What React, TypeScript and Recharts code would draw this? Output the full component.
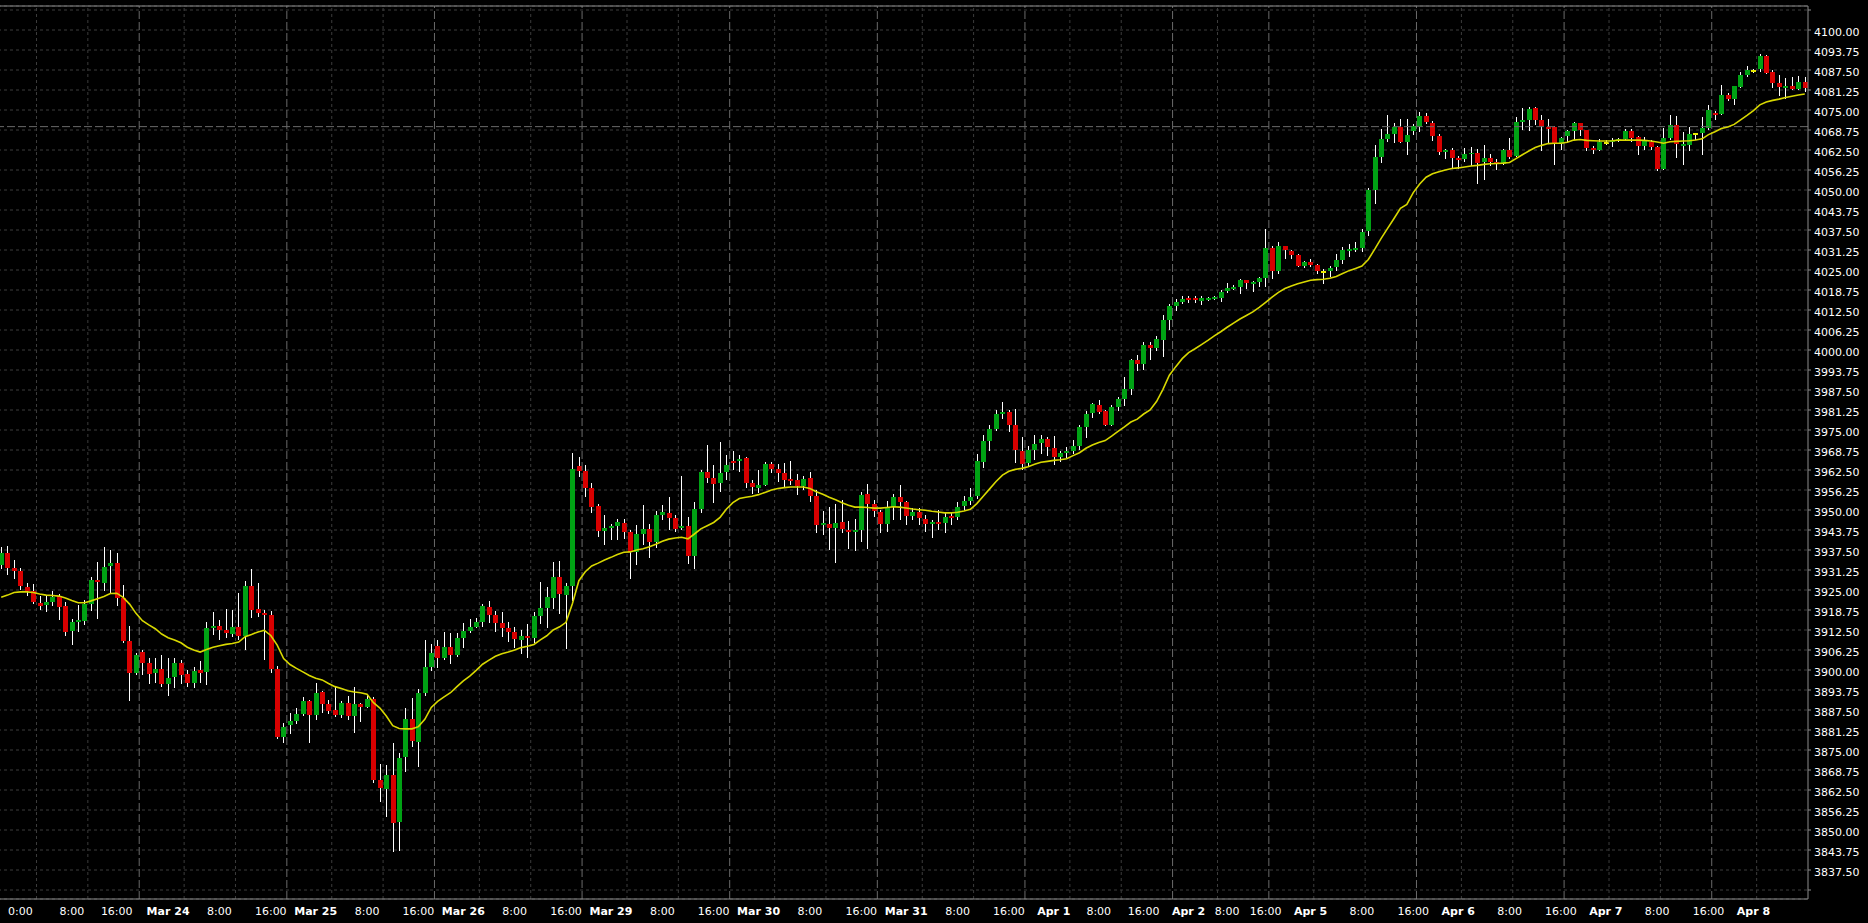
import { ComposedChart, Bar, Line, XAxis, YAxis, CartesianGrid, ReferenceLine } from 'recharts';

// hourly bars, Mar 23 -> Apr 8
const opens = [
  3932.8, 3936.7, 3931.9, 3931.0, 3926.0, 3924.7, 3921.0, 3920.3, 3921.25, 3923.1,
  3920.0, 3912.2, 3915.0, 3915.3, 3920.7, 3928.1, 3927.3, 3932.6, 3933.4, 3922.6,
  3909.0, 3899.2, 3905.6, 3902.2, 3899.1, 3900.3, 3895.7, 3897.9, 3902.2, 3898.75,
  3895.9, 3900.0, 3899.5, 3913.2, 3913.75, 3912.5, 3911.3, 3913.4, 3910.6, 3926.25,
  3919.0, 3917.8, 3917.2, 3900.3, 3879.1, 3882.8, 3884.1, 3886.3, 3890.3, 3885.9,
  3893.1, 3889.4, 3887.5, 3885.9, 3889.7, 3885.6, 3889.4, 3888.4, 3890.9, 3865.6,
  3862.8, 3867.2, 3852.6, 3872.9, 3884.7, 3877.6, 3892.8, 3900.9, 3907.5, 3903.75,
  3907.2, 3904.7, 3910.0, 3912.2, 3913.4, 3915.0, 3919.7, 3917.2, 3914.7, 3913.1,
  3911.9, 3909.4, 3910.6, 3910.0, 3916.9, 3919.5, 3922.6, 3929.1, 3923.5, 3926.4,
  3963.75, 3962.2, 3956.9, 3951.25, 3943.4, 3944.4, 3945.0, 3946.0, 3943.1, 3936.9,
  3942.5, 3944.0, 3940.0, 3948.4, 3949.0, 3947.5, 3944.4, 3945.0, 3935.6, 3950.3,
  3961.9, 3960.0, 3958.4, 3961.9, 3965.3, 3965.3, 3966.25, 3958.4, 3956.9, 3957.8,
  3964.4, 3962.8, 3961.6, 3959.7, 3959.4, 3957.5, 3960.0, 3954.4, 3945.3, 3945.6,
  3944.4, 3946.25, 3943.75, 3943.2, 3943.75, 3955.0, 3951.9, 3949.4, 3945.6, 3950.9,
  3954.0, 3952.5, 3948.1, 3949.4, 3947.2, 3945.6, 3946.25, 3945.9, 3948.1, 3947.8,
  3951.25, 3952.8, 3954.4, 3965.0, 3971.6, 3975.3, 3980.0, 3980.6, 3976.6, 3968.4,
  3964.7, 3968.75, 3970.9, 3972.2, 3969.4, 3966.6, 3967.8, 3968.4, 3970.0, 3975.9,
  3980.3, 3982.8, 3980.9, 3976.6, 3982.2, 3984.7, 3987.8, 3996.9, 3995.6, 4001.6,
  4000.6, 4003.1, 4009.4, 4013.9, 4015.0, 4016.25, 4016.25, 4015.3, 4015.6, 4016.0,
  4016.25, 4018.4, 4019.1, 4019.7, 4021.9, 4020.6, 4021.25, 4022.5, 4031.9, 4024.7,
  4032.5, 4030.9, 4029.7, 4026.25, 4027.5, 4026.6, 4024.4, 4024.7, 4026.0, 4028.1,
  4030.9, 4031.25, 4031.9, 4037.2, 4050.0, 4060.3, 4065.9, 4067.5, 4069.7, 4065.0,
  4068.4, 4069.7, 4073.1, 4071.0, 4066.9, 4061.9, 4062.5, 4060.0, 4059.7, 4061.25,
  4061.6, 4058.75, 4060.0, 4058.75, 4058.1, 4062.5, 4060.6, 4071.25, 4071.9, 4075.6,
  4071.9, 4069.7, 4069.7, 4064.4, 4066.9, 4068.4, 4070.9, 4068.75, 4063.1, 4062.5,
  4064.7, 4065.0, 4065.3, 4065.9, 4068.4, 4066.6, 4063.75, 4065.0, 4063.4, 4056.6,
  4066.25, 4070.3, 4063.75, 4064.1, 4067.5, 4067.8, 4069.4, 4074.1, 4073.75, 4079.7,
  4078.4, 4082.2, 4086.0, 4087.2, 4087.8, 4091.9, 4086.9, 4083.4, 4081.9, 4082.5,
  4081.6, 4083.75,
];

const highs = [
  3938.5, 3938.75, 3934.4, 3932.0, 3927.1, 3926.9, 3923.1, 3923.0, 3924.7, 3923.75,
  3921.35, 3915.8, 3920.2, 3921.9, 3929.2, 3933.75, 3938.5, 3937.5, 3936.5, 3926.5,
  3913.75, 3905.2, 3906.25, 3903.85, 3903.85, 3904.7, 3903.85, 3903.6, 3903.1, 3900.0,
  3901.0, 3902.8, 3915.0, 3918.2, 3915.6, 3919.0, 3918.75, 3924.2, 3927.9, 3931.6,
  3927.3, 3918.75, 3918.4, 3901.25, 3883.5, 3886.5, 3888.0, 3891.6, 3890.6, 3895.8,
  3893.4, 3890.6, 3894.8, 3890.3, 3891.9, 3894.8, 3889.8, 3892.2, 3891.7, 3870.6,
  3870.3, 3877.3, 3874.0, 3888.1, 3891.25, 3894.1, 3909.4, 3908.1, 3909.4, 3911.9,
  3911.6, 3911.5, 3914.6, 3915.8, 3916.1, 3920.6, 3921.6, 3918.5, 3918.2, 3915.0,
  3913.5, 3912.5, 3914.4, 3918.1, 3927.5, 3926.0, 3933.75, 3934.0, 3927.1, 3967.7,
  3966.7, 3964.1, 3958.3, 3951.9, 3948.4, 3945.6, 3947.1, 3947.1, 3943.75, 3945.3,
  3951.6, 3945.6, 3949.7, 3951.6, 3954.2, 3948.4, 3960.6, 3947.7, 3952.6, 3962.5,
  3970.3, 3964.1, 3971.25, 3967.2, 3968.4, 3967.2, 3966.6, 3959.4, 3962.5, 3965.0,
  3965.0, 3964.4, 3964.6, 3965.3, 3961.25, 3960.6, 3961.9, 3956.25, 3949.8, 3951.0,
  3951.9, 3953.1, 3946.6, 3947.2, 3955.6, 3958.1, 3953.1, 3950.0, 3952.8, 3955.0,
  3957.8, 3952.8, 3950.6, 3950.6, 3948.4, 3946.9, 3950.0, 3949.4, 3949.4, 3952.5,
  3954.4, 3956.9, 3967.5, 3973.4, 3976.6, 3981.25, 3983.75, 3981.25, 3981.6, 3972.9,
  3970.1, 3973.4, 3973.4, 3972.8, 3973.1, 3968.4, 3969.7, 3971.9, 3976.6, 3980.9,
  3983.5, 3984.4, 3981.25, 3982.8, 3985.3, 3991.6, 3997.2, 3998.4, 4002.5, 4002.5,
  4004.4, 4010.9, 4014.4, 4015.8, 4016.9, 4016.9, 4016.9, 4016.9, 4016.6, 4016.9,
  4018.75, 4020.9, 4020.3, 4022.2, 4021.9, 4021.6, 4022.8, 4037.8, 4032.5, 4033.75,
  4032.5, 4031.25, 4030.0, 4027.8, 4028.4, 4026.9, 4025.3, 4026.25, 4030.0, 4032.2,
  4033.1, 4033.75, 4037.8, 4050.6, 4064.1, 4069.1, 4073.4, 4071.0, 4072.2, 4072.2,
  4070.6, 4074.5, 4074.2, 4071.6, 4067.5, 4062.8, 4063.1, 4060.6, 4063.1, 4063.4,
  4062.8, 4064.0, 4061.25, 4059.7, 4062.8, 4066.25, 4072.8, 4075.6, 4075.9, 4075.9,
  4073.4, 4072.2, 4070.0, 4066.6, 4068.75, 4071.25, 4070.9, 4068.75, 4063.75, 4065.9,
  4065.6, 4066.25, 4066.25, 4069.1, 4069.1, 4066.9, 4066.6, 4065.6, 4063.75, 4069.4,
  4073.4, 4073.1, 4068.1, 4069.6, 4067.9, 4072.8, 4076.6, 4074.7, 4082.8, 4080.3,
  4082.5, 4086.9, 4088.75, 4087.8, 4092.5, 4092.2, 4087.5, 4085.9, 4085.0, 4085.3,
  4085.6, 4085.3,
];

const lows = [
  3931.5, 3929.7, 3928.4, 3925.0, 3923.0, 3920.6, 3918.75, 3918.0, 3920.0, 3915.6,
  3910.6, 3907.8, 3912.0, 3914.0, 3918.3, 3915.9, 3924.7, 3924.0, 3920.1, 3908.3,
  3890.3, 3898.4, 3898.4, 3895.6, 3896.0, 3894.8, 3892.0, 3894.5, 3895.6, 3894.8,
  3894.5, 3896.0, 3895.3, 3910.9, 3909.4, 3909.9, 3910.4, 3909.4, 3906.25, 3916.2,
  3916.7, 3903.1, 3899.2, 3878.5, 3877.1, 3880.0, 3883.0, 3885.5, 3877.3, 3884.4,
  3886.5, 3886.25, 3885.4, 3884.9, 3884.4, 3880.2, 3883.85, 3888.0, 3864.6, 3858.85,
  3854.2, 3843.2, 3843.5, 3868.2, 3876.0, 3869.8, 3891.9, 3899.8, 3900.6, 3903.1,
  3901.9, 3904.2, 3906.9, 3911.6, 3913.0, 3913.4, 3914.6, 3912.0, 3910.4, 3908.85,
  3906.8, 3905.0, 3903.75, 3908.3, 3914.4, 3913.1, 3919.0, 3917.5, 3906.6, 3921.7,
  3960.4, 3954.2, 3949.2, 3941.7, 3939.0, 3940.6, 3940.6, 3940.8, 3928.4, 3932.8,
  3939.0, 3935.0, 3938.0, 3946.9, 3943.75, 3943.0, 3943.75, 3933.1, 3931.6, 3949.0,
  3958.3, 3952.3, 3955.6, 3959.4, 3962.5, 3962.0, 3956.8, 3954.9, 3955.2, 3957.5,
  3961.5, 3958.6, 3957.3, 3957.8, 3954.7, 3956.25, 3952.6, 3942.9, 3942.2, 3937.5,
  3933.5, 3942.9, 3937.8, 3937.2, 3940.0, 3937.8, 3947.9, 3942.9, 3943.1, 3946.9,
  3946.9, 3945.3, 3946.9, 3945.3, 3943.1, 3941.4, 3943.75, 3942.9, 3945.3, 3946.9,
  3950.0, 3951.6, 3953.4, 3963.1, 3968.5, 3974.7, 3978.4, 3974.4, 3964.7, 3962.5,
  3963.5, 3965.6, 3967.5, 3966.9, 3964.1, 3965.0, 3966.25, 3967.5, 3968.75, 3972.5,
  3978.75, 3980.0, 3976.25, 3976.2, 3980.9, 3982.5, 3985.9, 3993.4, 3993.75, 3996.9,
  3999.7, 3997.9, 4006.25, 4012.2, 4014.4, 4014.6, 4014.8, 4014.0, 4015.2, 4015.7,
  4015.0, 4017.8, 4018.9, 4017.5, 4019.1, 4018.1, 4019.7, 4019.7, 4022.2, 4023.75,
  4028.4, 4028.4, 4026.0, 4025.6, 4025.9, 4023.75, 4020.6, 4022.8, 4024.7, 4026.9,
  4029.1, 4030.6, 4030.6, 4035.6, 4045.6, 4058.4, 4065.0, 4064.7, 4064.7, 4061.0,
  4067.2, 4068.1, 4070.6, 4065.3, 4061.0, 4059.7, 4056.6, 4056.6, 4058.75, 4057.5,
  4051.9, 4053.1, 4057.5, 4056.25, 4057.8, 4059.7, 4060.3, 4068.75, 4068.4, 4070.3,
  4062.2, 4064.6, 4057.8, 4062.5, 4065.0, 4065.6, 4066.9, 4062.2, 4061.25, 4062.2,
  4064.0, 4063.4, 4065.0, 4065.3, 4065.0, 4061.0, 4062.5, 4062.5, 4056.0, 4056.3,
  4065.6, 4059.9, 4057.8, 4062.2, 4065.6, 4060.9, 4068.75, 4071.9, 4073.5, 4077.8,
  4076.6, 4082.0, 4085.4, 4086.6, 4087.0, 4086.3, 4081.9, 4079.4, 4078.4, 4081.25,
  4081.25, 4080.6,
];

const closes = [
  3936.7, 3932.0, 3931.0, 3926.25, 3924.7, 3921.25, 3920.0, 3921.25, 3922.8, 3919.7,
  3912.0, 3915.0, 3915.5, 3920.7, 3928.1, 3927.5, 3932.2, 3933.4, 3922.5, 3909.0,
  3899.2, 3904.6, 3902.3, 3898.9, 3900.3, 3895.7, 3897.5, 3902.2, 3898.5, 3895.9,
  3899.7, 3899.1, 3913.1, 3913.75, 3912.6, 3911.7, 3913.4, 3910.6, 3926.25, 3918.75,
  3917.8, 3917.2, 3900.3, 3879.1, 3882.2, 3884.1, 3886.35, 3890.3, 3885.9, 3892.8,
  3889.4, 3887.3, 3885.9, 3889.7, 3885.6, 3889.4, 3888.5, 3890.9, 3865.6, 3863.1,
  3867.2, 3852.3, 3872.5, 3884.7, 3877.8, 3892.8, 3900.9, 3905.3, 3903.75, 3907.2,
  3904.7, 3910.0, 3912.2, 3913.4, 3915.0, 3920.0, 3917.2, 3914.7, 3913.1, 3911.9,
  3909.7, 3910.6, 3910.0, 3916.9, 3919.5, 3922.8, 3929.1, 3923.9, 3926.4, 3962.8,
  3962.2, 3956.9, 3950.9, 3943.4, 3944.4, 3945.0, 3946.25, 3943.1, 3936.9, 3942.5,
  3944.0, 3940.0, 3948.4, 3949.4, 3947.5, 3944.0, 3945.0, 3935.6, 3950.3, 3961.9,
  3960.0, 3958.1, 3961.6, 3964.1, 3964.7, 3965.9, 3958.4, 3957.2, 3957.8, 3964.4,
  3962.8, 3961.6, 3959.4, 3959.1, 3957.5, 3959.7, 3954.4, 3945.3, 3945.9, 3944.4,
  3945.9, 3944.0, 3943.2, 3943.75, 3954.7, 3951.9, 3949.7, 3945.6, 3950.6, 3954.0,
  3952.5, 3948.1, 3949.4, 3947.5, 3945.6, 3946.25, 3945.6, 3947.8, 3947.5, 3950.9,
  3952.8, 3954.1, 3965.3, 3971.6, 3975.3, 3980.0, 3980.6, 3976.6, 3968.75, 3964.4,
  3968.75, 3970.6, 3972.2, 3969.7, 3966.6, 3967.8, 3968.4, 3970.0, 3975.9, 3980.0,
  3983.1, 3980.6, 3976.6, 3982.2, 3984.7, 3987.8, 3996.9, 3995.6, 4001.6, 4000.6,
  4003.4, 4009.4, 4013.75, 4015.0, 4015.9, 4015.6, 4015.6, 4016.25, 4016.25, 4016.6,
  4018.1, 4019.4, 4019.7, 4021.9, 4021.0, 4021.25, 4022.5, 4031.9, 4024.7, 4032.5,
  4031.25, 4029.7, 4026.25, 4027.5, 4026.6, 4024.7, 4024.4, 4025.6, 4028.1, 4031.25,
  4031.6, 4031.9, 4036.9, 4050.0, 4060.3, 4065.9, 4067.5, 4069.7, 4065.0, 4067.2,
  4070.0, 4073.1, 4071.25, 4066.9, 4061.9, 4062.5, 4060.0, 4059.4, 4061.25, 4061.6,
  4058.4, 4060.0, 4058.75, 4058.1, 4062.5, 4060.3, 4071.25, 4071.9, 4075.3, 4071.9,
  4070.0, 4069.1, 4064.7, 4066.25, 4068.4, 4070.9, 4068.75, 4063.1, 4062.5, 4065.0,
  4064.7, 4065.6, 4065.9, 4068.4, 4066.25, 4063.75, 4065.3, 4063.4, 4056.6, 4066.25,
  4070.3, 4064.4, 4064.4, 4067.5, 4067.5, 4069.4, 4075.0, 4073.4, 4079.7, 4078.4,
  4082.5, 4085.9, 4087.5, 4087.2, 4091.9, 4086.6, 4083.4, 4082.2, 4082.5, 4081.6,
  4083.75, 4081.9,
];

// moving average as drawn on the chart
const maValues = [
  3922.7, 3923.4, 3924.2, 3924.4, 3924.4, 3924.2, 3923.75, 3923.4, 3923.3, 3923.1,
  3922.5, 3921.7, 3921.0, 3921.0, 3921.6, 3922.3, 3923.0, 3923.9, 3924.0, 3922.7,
  3920.6, 3917.7, 3915.4, 3914.1, 3912.9, 3911.25, 3910.1, 3909.4, 3908.5, 3907.1,
  3906.25, 3905.6, 3906.4, 3907.1, 3907.6, 3908.0, 3908.3, 3908.75, 3910.4, 3911.1,
  3911.9, 3912.4, 3910.8, 3907.8, 3903.6, 3901.7, 3900.5, 3899.4, 3898.3, 3897.4,
  3896.9, 3895.8, 3894.8, 3894.2, 3893.5, 3893.1, 3892.9, 3892.4, 3889.8, 3888.1,
  3885.6, 3882.6, 3881.7, 3881.6, 3881.6, 3882.3, 3884.6, 3888.3, 3890.2, 3891.6,
  3892.9, 3894.8, 3896.6, 3898.1, 3899.9, 3901.8, 3903.1, 3904.3, 3905.1, 3905.6,
  3906.25, 3907.0, 3907.4, 3908.0, 3909.4, 3910.7, 3912.5, 3913.5, 3914.9, 3920.8,
  3927.9, 3930.7, 3932.5, 3933.4, 3934.4, 3935.2, 3936.1, 3936.8, 3936.9, 3937.5,
  3937.9, 3938.5, 3939.3, 3940.2, 3940.9, 3941.25, 3941.5, 3941.0, 3942.5, 3944.1,
  3945.1, 3946.1, 3947.7, 3950.3, 3952.3, 3953.6, 3954.0, 3954.3, 3954.8, 3955.5,
  3956.25, 3956.7, 3957.0, 3957.2, 3957.2, 3957.2, 3956.7, 3955.7, 3954.9, 3954.0,
  3953.2, 3952.3, 3951.5, 3950.9, 3950.9, 3950.8, 3950.6, 3950.6, 3950.8, 3951.0,
  3950.9, 3950.6, 3950.3, 3950.1, 3949.9, 3949.6, 3949.4, 3949.1, 3949.1, 3949.3,
  3949.7, 3950.2, 3952.0, 3954.3, 3956.6, 3958.9, 3960.9, 3962.1, 3962.7, 3963.0,
  3963.5, 3964.3, 3964.9, 3965.2, 3965.5, 3965.7, 3966.0, 3967.0, 3967.9, 3969.3,
  3970.3, 3971.1, 3971.7, 3973.1, 3974.6, 3976.0, 3977.5, 3978.4, 3980.0, 3981.25,
  3983.9, 3987.7, 3992.1, 3994.8, 3997.3, 3999.2, 4000.4, 4001.7, 4003.0, 4004.4,
  4005.7, 4007.1, 4008.4, 4009.7, 4010.8, 4011.9, 4013.3, 4014.9, 4016.5, 4018.0,
  4019.2, 4020.0, 4020.7, 4021.25, 4021.8, 4022.0, 4022.1, 4022.4, 4023.0, 4023.9,
  4024.8, 4025.5, 4026.25, 4028.3, 4031.5, 4034.9, 4038.0, 4041.1, 4044.3, 4045.5,
  4049.2, 4051.9, 4054.0, 4055.1, 4055.7, 4056.25, 4056.7, 4056.9, 4057.2, 4057.5,
  4057.7, 4058.0, 4058.2, 4058.3, 4058.4, 4058.6, 4059.8, 4061.0, 4062.2, 4063.3,
  4063.95, 4064.5, 4064.6, 4064.6, 4064.9, 4065.6, 4065.8, 4065.5, 4065.4, 4065.3,
  4065.3, 4065.4, 4065.6, 4065.6, 4065.6, 4065.6, 4065.5, 4065.3, 4065.0, 4064.6,
  4065.1, 4065.2, 4065.3, 4065.4, 4065.6, 4066.0, 4067.3, 4068.2, 4069.2, 4069.7,
  4070.5, 4071.9, 4073.3, 4074.8, 4076.6, 4077.5, 4078.0, 4078.4, 4078.9, 4079.3,
  4079.7, 4080.0,
];

// first bar of each trading day (period separators)
const dayStarts = [21, 44, 67, 90, 113, 136, 159, 182, 197, 220, 243, 266];
// bars carrying the short-dash vertical grid
const gridBars = [5, 13, 28, 36, 51, 59, 74, 82, 97, 105, 120, 128, 143, 151, 166, 174, 189, 204, 212, 227, 235, 250, 258, 273];

const timeLabels = [
  '0:00', '8:00', '16:00', 'Mar 24', '8:00', '16:00', 'Mar 25', '8:00', '16:00', 'Mar 26',
  '8:00', '16:00', 'Mar 29', '8:00', '16:00', 'Mar 30', '8:00', '16:00', 'Mar 31',
  '8:00', '16:00', 'Apr 1', '8:00', '16:00', 'Apr 2', '8:00', '16:00', 'Apr 5',
  '8:00', '16:00', 'Apr 6', '8:00', '16:00', 'Apr 7', '8:00', '16:00', 'Apr 8',
];
const timeLabelBars = [
  3, 11, 18, 26, 34, 42, 49, 57, 65, 72,
  80, 88, 95, 103, 111, 118, 126, 134, 141,
  149, 157, 164, 171, 178, 185, 191, 197, 204,
  212, 220, 227, 235, 243, 250, 258, 266, 273,
];

const bidPrice = 4069.8;
const yMin = 3828.4375;
const yMax = 4107.5;
const priceTicks = Array.from({ length: 45 }, (_, k) => 3831.25 + k * 6.25);

const UP = '#00a214';
const DOWN = '#d80000';
const DOJI = '#e8e800';
const GRID = '#3c3c3c';
const SEP = '#6a6a6a';
const AXIS = '#8c8c8c';
const FONT = 'DejaVu Sans, sans-serif';

const data = opens.map((o, i) => ({
  i,
  o,
  h: highs[i],
  l: lows[i],
  c: closes[i],
  range: [lows[i], highs[i]],
  ma: maValues[i],
}));

function Candle(props: any) {
  const { x, y, width, height, payload } = props;
  if (!payload || !isFinite(height)) return null;
  const { o, h, l, c } = payload;
  const top0 = Math.min(y, y + height);
  const hh = Math.abs(height);
  const k = hh / (h - l);
  const left = Math.round(x + width / 2 - 2.5);
  const mid = left + 2.5;
  const yOf = (v: number) => top0 + (h - v) * k;
  const wick = (
    <line x1={mid} x2={mid} y1={Math.round(top0)} y2={Math.round(top0 + hh)} stroke="#ffffff" strokeWidth={1} />
  );
  if (o === c) {
    return (
      <g>
        {wick}
        <rect x={left} y={Math.round(yOf(o)) - 1} width={5} height={2} fill={DOJI} />
      </g>
    );
  }
  const bt = Math.round(yOf(Math.max(o, c)));
  const bb = Math.max(Math.round(yOf(Math.min(o, c))), bt + 1);
  return (
    <g>
      {wick}
      <rect x={left} y={bt} width={5} height={bb - bt} fill={c > o ? UP : DOWN} />
    </g>
  );
}

function PriceTick(props: any) {
  const { x, y, payload } = props;
  const v = payload.value;
  if (v < 3837 || v > 4100.1) return null;
  return (
    <text x={x} y={y + 5.5} fill="#ffffff" fontSize={11} fontFamily={FONT} textAnchor="start">
      {v.toFixed(2)}
    </text>
  );
}

function TimeTick(props: any) {
  const { x, y, payload } = props;
  const idx = timeLabelBars.indexOf(payload.value);
  if (idx < 0) return null;
  const label = timeLabels[idx];
  const isDate = /^[A-Z]/.test(label);
  return (
    <text
      x={x}
      y={y + 14}
      fill="#ffffff"
      fontSize={11}
      fontFamily={FONT}
      fontWeight={isDate ? 'bold' : 'normal'}
      textAnchor="middle"
    >
      {label}
    </text>
  );
}

export default function App() {
  return (
    <div style={{ position: 'absolute', left: 0, top: 0, width: 1868, height: 923, background: '#000' }}>
      <ComposedChart
        width={1868}
        height={923}
        data={data}
        margin={{ top: 6, right: 0, bottom: 0, left: -2 }}
        barSize={5}
      >
        <CartesianGrid vertical={false} stroke={GRID} strokeDasharray="3 3" />
        {gridBars.map((b) => (
          <ReferenceLine key={'g' + b} x={b} position="end" stroke={GRID} strokeDasharray="3 3" />
        ))}
        {dayStarts.map((b) => (
          <ReferenceLine key={'d' + b} x={b} position="end" stroke={SEP} strokeDasharray="8 3" />
        ))}
        <ReferenceLine y={bidPrice} stroke={SEP} strokeDasharray="8 3" />
        <ReferenceLine y={yMax} stroke={AXIS} />
        <XAxis
          dataKey="i"
          type="category"
          ticks={timeLabelBars}
          interval={0}
          tick={<TimeTick />}
          tickLine={false}
          tickSize={0}
          axisLine={{ stroke: AXIS }}
          height={24}
        />
        <YAxis
          type="number"
          orientation="right"
          width={60}
          domain={[yMin, yMax]}
          allowDataOverflow
          ticks={priceTicks}
          interval={0}
          tick={<PriceTick />}
          tickSize={3}
          tickMargin={3}
          tickLine={{ stroke: AXIS }}
          axisLine={{ stroke: AXIS }}
        />
        <Bar dataKey="range" shape={<Candle />} isAnimationActive={false} />
        <Line
          type="linear"
          dataKey="ma"
          stroke="#d8d800"
          strokeWidth={1.6}
          dot={false}
          activeDot={false}
          isAnimationActive={false}
        />
      </ComposedChart>
    </div>
  );
}
